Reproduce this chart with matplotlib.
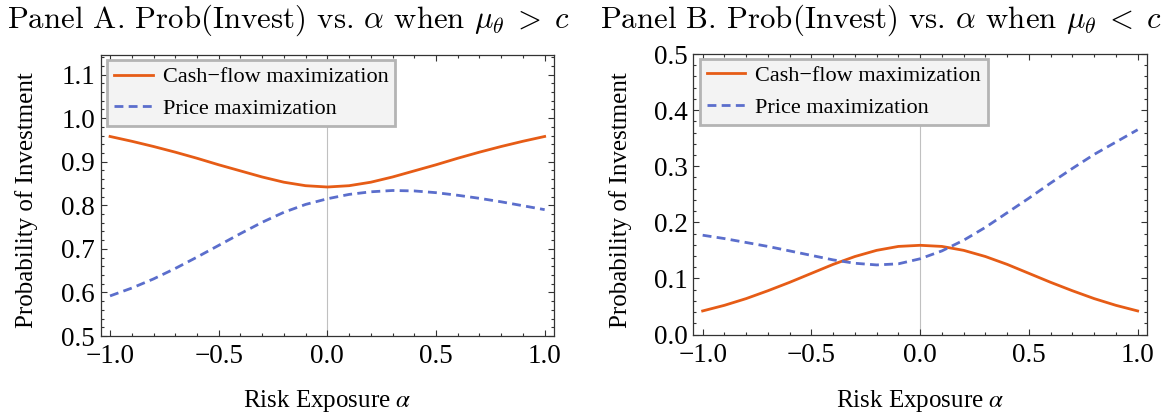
import matplotlib
matplotlib.use("Agg")
import matplotlib.pyplot as plt

plt.rcParams['font.family'] = ['Liberation Serif', 'DejaVu Serif']
plt.rcParams['mathtext.fontset'] = 'stix'

# risk exposure grid
alpha = [-1.0, -0.9, -0.8, -0.7, -0.6, -0.5, -0.4, -0.3, -0.2, -0.1, 0.0,
         0.1, 0.2, 0.3, 0.4, 0.5, 0.6, 0.7, 0.8, 0.9, 1.0]

# Panel A (mu_theta > c)
cash_a = [0.958, 0.947, 0.935, 0.922, 0.908, 0.893, 0.879, 0.865, 0.853, 0.845, 0.842,
          0.845, 0.853, 0.865, 0.879, 0.893, 0.908, 0.922, 0.935, 0.947, 0.958]
price_a = [0.592, 0.610, 0.631, 0.655, 0.681, 0.708, 0.735, 0.761, 0.784, 0.802, 0.815,
           0.825, 0.831, 0.834, 0.833, 0.829, 0.823, 0.816, 0.808, 0.799, 0.790]

# Panel B (mu_theta < c)
cash_b = [0.042, 0.052, 0.064, 0.078, 0.093, 0.109, 0.125, 0.139, 0.150, 0.157, 0.159,
          0.157, 0.150, 0.139, 0.125, 0.109, 0.093, 0.078, 0.064, 0.052, 0.042]
price_b = [0.177, 0.171, 0.164, 0.157, 0.149, 0.141, 0.133, 0.127, 0.124, 0.126, 0.135,
           0.149, 0.168, 0.191, 0.217, 0.243, 0.270, 0.296, 0.321, 0.343, 0.365]

x_ticks = [-1.0, -0.5, 0.0, 0.5, 1.0]
labels = ['Cash\u2212flow maximization', 'Price maximization']
titles = [r'Panel A. Prob(Invest) vs. $\alpha$ when $\mu_\theta\;>\;c$',
          r'Panel B. Prob(Invest) vs. $\alpha$ when $\mu_\theta\;<\;c$']

ORANGE = '#E65C16'
BLUE = '#5B6ECC'
W, H = 1174, 417

fig = plt.figure(figsize=(W / 100, H / 100), dpi=100)


def px_axes(left, top, right, bottom):
    return fig.add_axes([left / W, 1 - bottom / H, (right - left) / W, (bottom - top) / H])


def fmt(v):
    return ('%.1f' % v).replace('-', '\u2212')


def style_axes(ax, ylim, yticks):
    ax.set_xlim(-1.043, 1.043)
    ax.set_ylim(*ylim)
    ax.set_xticks(x_ticks)
    ax.set_xticks([i / 10 for i in range(-10, 11)], minor=True)
    ax.set_yticks(yticks)
    n_minor = int(round((ylim[1] - yticks[0]) / 0.02)) + 1
    ax.set_yticks([round(yticks[0] + 0.02 * i, 3) for i in range(n_minor)], minor=True)
    ax.set_xticklabels([fmt(t) for t in x_ticks])
    ax.set_yticklabels([fmt(t) for t in yticks])
    ax.tick_params(which='both', direction='in', top=True, right=True, color='#333333', width=0.8)
    ax.tick_params(which='major', length=4.5, labelsize=19.5)
    ax.tick_params(which='minor', length=2.5)
    ax.tick_params(axis='x', pad=6)
    ax.tick_params(axis='y', pad=4)
    for s in ax.spines.values():
        s.set_color('#333333')
        s.set_linewidth(0.9)
    ax.axvline(0, color='#c0c0c0', lw=0.8, zorder=1)


panels = [
    (px_axes(100.7, 55, 554, 336), cash_a, price_a, (0.5, 1.145), [0.5, 0.6, 0.7, 0.8, 0.9, 1.0, 1.1]),
    (px_axes(693.3, 54, 1147, 334.5), cash_b, price_b, (0.0, 0.5), [0.0, 0.1, 0.2, 0.3, 0.4, 0.5]),
]

for ax, cash, price, ylim, yticks in panels:
    style_axes(ax, ylim, yticks)
    ax.plot(alpha, cash, color=ORANGE, lw=2.0, label=labels[0], zorder=3)
    ax.plot(alpha, price, color=BLUE, lw=2.0, ls=(0, (3.2, 1.9)), label=labels[1], zorder=3)
    leg = ax.legend(loc='upper left', bbox_to_anchor=(0.0146, 0.982), borderaxespad=0,
                    fontsize=16, handlelength=1.75, handletextpad=0.45, borderpad=0.3,
                    labelspacing=0.5, fancybox=False, framealpha=1)
    leg.get_frame().set_facecolor('#f3f3f3')
    leg.get_frame().set_edgecolor('#b4b4b4')
    leg.get_frame().set_linewidth(2)

# titles (LaTeX look)
for x0, t in zip([6.7, 600], titles):
    fig.text(x0 / W, 1 - 28 / H, t, ha='left', va='baseline', fontsize=22.2,
             family='cmr10', math_fontfamily='cm')

# axis labels
for cx, ylab_x in zip([327.3, 920.2], [27, 620.5]):
    fig.text(cx / W, 1 - 406.7 / H, r'Risk Exposure $\alpha$', ha='center', va='baseline', fontsize=18)
    fig.text(ylab_x / W, 1 - 328.5 / H, 'Probability of Investment', rotation=90,
             ha='center', va='bottom', fontsize=18)

fig.savefig('out.png', dpi=100)
